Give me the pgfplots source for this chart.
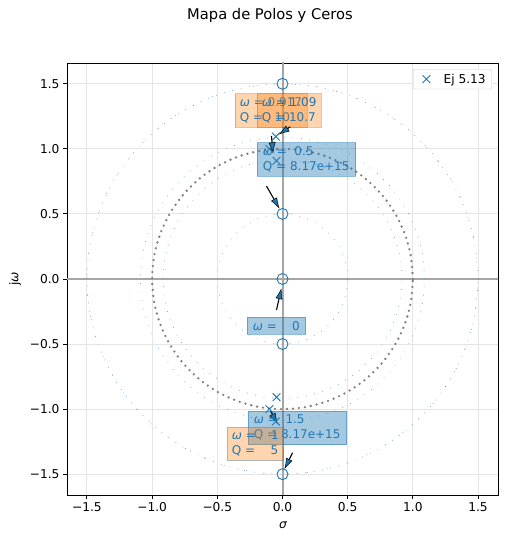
\documentclass[border=0pt]{standalone}
\usepackage{fontspec}
\setmainfont{DejaVu Sans}
\usepackage{pgfplots}
\pgfplotsset{compat=1.18}
\usepackage{pgfplotstable}
\usetikzlibrary{arrows.meta}
\definecolor{tabblue}{RGB}{31,119,180}
\definecolor{taborange}{RGB}{255,127,14}
\pgfplotsset{xlegend/.style={legend image code/.code={\path[##1] plot coordinates {(9pt,0pt)}; \path (0pt,0pt) (24pt,0pt);}}}

\pgfplotstableread{
x y
1.0000 0.0000
0.9848 0.1736
0.9397 0.3420
0.8660 0.5000
0.7660 0.6428
0.6428 0.7660
0.5000 0.8660
0.3420 0.9397
0.1736 0.9848
0.0000 1.0000
-0.1736 0.9848
-0.3420 0.9397
-0.5000 0.8660
-0.6428 0.7660
-0.7660 0.6428
-0.8660 0.5000
-0.9397 0.3420
-0.9848 0.1736
-1.0000 0.0000
-0.9848 -0.1736
-0.9397 -0.3420
-0.8660 -0.5000
-0.7660 -0.6428
-0.6428 -0.7660
-0.5000 -0.8660
-0.3420 -0.9397
-0.1736 -0.9848
0.0000 -1.0000
0.1736 -0.9848
0.3420 -0.9397
0.5000 -0.8660
0.6428 -0.7660
0.7660 -0.6428
0.8660 -0.5000
0.9397 -0.3420
0.9848 -0.1736
1.0000 0.0000
}\unitcircle

\pgfplotstableread{
x y
-0.0509 1.0950
-0.0509 -1.0950
-0.1000 1.0000
-0.1000 -1.0000
-0.0459 0.9080
-0.0459 -0.9080
}\poles

\pgfplotstableread{
x y
0 1.5
0 -1.5
0 0.5
0 -0.5
0 0
}\zeros

\begin{document}
\begin{tikzpicture}[
 bluebox/.style={anchor=north west, fill=tabblue, fill opacity=0.4, draw=tabblue, draw opacity=0.5, line width=0.8pt, text=tabblue, text opacity=1, align=left, inner xsep=6pt, inner ysep=4pt, font=\fontsize{12}{15}\selectfont},
 orangebox/.style={bluebox, inner xsep=5pt, fill=taborange, fill opacity=0.33, draw=tabblue, draw opacity=0.35},
 ann/.style={-{Latex[length=11pt,width=7pt,fill=tabblue,line width=0.5pt]}, black, line width=1.1pt}
]
\useasboundingbox (-67pt,-46pt) rectangle (439pt,495pt);
\begin{axis}[
  scale only axis, width=431pt, height=432pt,
  xmin=-1.653, xmax=1.653, ymin=-1.66, ymax=1.66,
  xtick={-1.5,-1,-0.5,0,0.5,1,1.5},
  xticklabels={−1.5,−1.0,−0.5,0.0,0.5,1.0,1.5},
  ytick={-1.5,-1,-0.5,0,0.5,1,1.5},
  yticklabels={−1.5,−1.0,−0.5,0.0,0.5,1.0,1.5},
  tick pos=left, tick align=outside, major tick length=4pt,
  tick style={black, line width=0.9pt},
  axis line style={line width=0.9pt},
  ticklabel style={font=\fontsize{12.2}{14}\selectfont},
  grid=major, grid style={color=black!10, line width=0.9pt},
  legend style={at={(0.986,0.986)}, anchor=north east, draw=black!20, rounded corners=2pt, font=\fontsize{12.2}{14}\selectfont, inner xsep=4pt, inner ysep=2.5pt},
  legend cell align=left,
]
\addplot[black!35, line width=2pt, forget plot] coordinates {(-2,0) (2,0)};
\addplot[black!35, line width=2pt, forget plot] coordinates {(0,-2) (0,2)};
% reference circles
\addplot[forget plot, smooth, tabblue!70, line width=0.9pt, line cap=round, dash pattern=on 0pt off 8.5pt] table[x expr=0.5*\thisrow{x}, y expr=0.5*\thisrow{y}] {\unitcircle};
\addplot[forget plot, smooth, tabblue!70, line width=0.9pt, line cap=round, dash pattern=on 0pt off 8.5pt] table[x expr=0.917*\thisrow{x}, y expr=0.917*\thisrow{y}] {\unitcircle};
\addplot[forget plot, smooth, tabblue!70, line width=0.9pt, line cap=round, dash pattern=on 0pt off 8.5pt] table[x expr=1.09*\thisrow{x}, y expr=1.09*\thisrow{y}] {\unitcircle};
\addplot[forget plot, smooth, tabblue!70, line width=0.9pt, line cap=round, dash pattern=on 0pt off 8.5pt] table[x expr=1.5*\thisrow{x}, y expr=1.5*\thisrow{y}] {\unitcircle};
\addplot[forget plot, smooth, black!50, line width=0.9pt, line cap=round, dash pattern=on 0pt off 21pt] table[x expr=1.5*\thisrow{x}, y expr=1.5*\thisrow{y}] {\unitcircle};
\addplot[forget plot, smooth, black!50, line width=2.6pt, line cap=round, dash pattern=on 0pt off 6pt] table {\unitcircle};
% poles and zeros
\addplot[only marks, mark=x, mark size=5.5pt, tabblue, mark options={line width=0.9pt}, xlegend] table {\poles};
\addlegendentry{Ej 5.13}
\addplot[forget plot, only marks, mark=o, mark size=5.5pt, tabblue, mark options={line width=0.9pt, fill=none}] table {\zeros};
% annotations
\node[orangebox] at (axis cs:-0.368,1.427) {{\itshape ω} = 0.917\\Q =\ \ \ 10};
\node[orangebox] at (axis cs:-0.199,1.427) {{\itshape ω} = 1.09\\Q = 10.7};
\node[bluebox] at (axis cs:-0.199,1.051) {{\itshape ω} =\ \ 0.5\\Q = 8.17e+15};
\node[bluebox] at (axis cs:-0.276,-0.292) {{\itshape ω} =\ \ \ \ 0};
\node[bluebox] at (axis cs:-0.268,-1.013) {{\itshape ω} =\ \ 1.5\\Q = 8.17e+15};
\node[orangebox] at (axis cs:-0.429,-1.136) {{\itshape ω} =\ \ \ \ 1\\Q =\ \ \ \ 5};
\draw[ann] (axis cs:0.06,1.17) -- (axis cs:-0.03,1.11);
\draw[ann] (axis cs:-0.085,1.10) -- (axis cs:-0.072,0.965);
\draw[ann] (axis cs:-0.123,0.714) -- (axis cs:-0.023,0.540);
\draw[ann] (axis cs:-0.046,-0.238) -- (axis cs:-0.008,-0.07);
\draw[ann] (axis cs:-0.092,-1.013) -- (axis cs:-0.038,-1.115);
\draw[ann] (axis cs:0.077,-1.335) -- (axis cs:0.015,-1.462);
\end{axis}
\node[font=\fontsize{14.7}{17}\selectfont] at (203pt,480pt) {Mapa de Polos y Ceros};
\node[font=\fontsize{12.2}{14}\selectfont] at (216pt,-30pt) {\itshape σ};
\node[rotate=90, font=\fontsize{12.2}{14}\selectfont] at (-52pt,216pt) {j{\itshape ω}};
\end{tikzpicture}
\end{document}
